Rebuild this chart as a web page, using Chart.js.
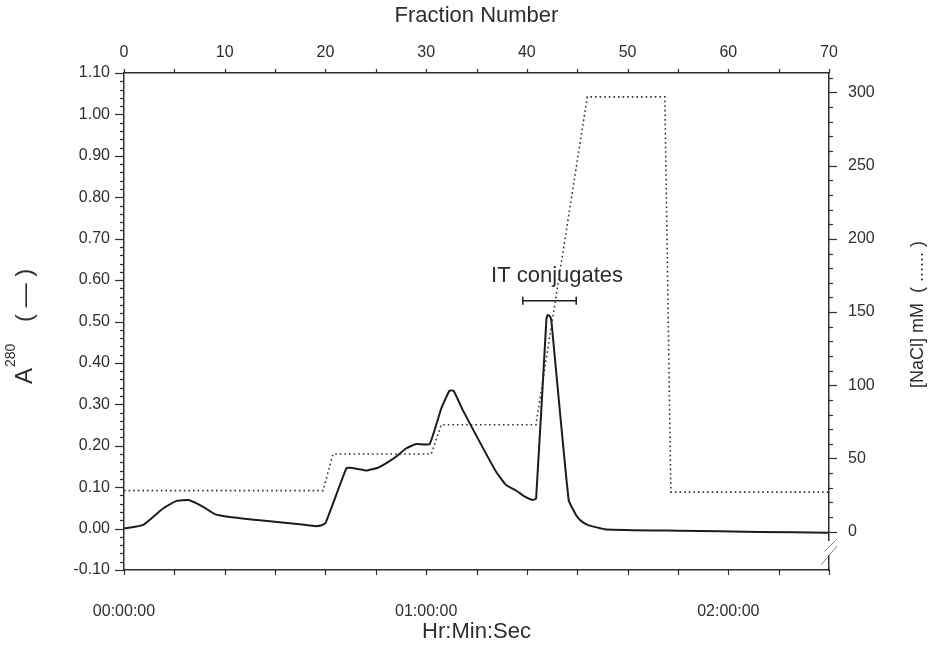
<!DOCTYPE html>
<html><head><meta charset="utf-8">
<script src="https://cdn.jsdelivr.net/npm/chart.js@4/dist/chart.umd.min.js"></script>
<style>html,body{margin:0;padding:0;background:#fff;}canvas{display:block;}</style>
</head><body>
<canvas id="c" width="930" height="645"></canvas>
<script>
// ---- data ----
const a280Fraction = [0, 1.91, 3.90, 5.23, 6.38, 7.21, 8.03, 9.02, 10.51, 13.48, 16.46, 18.93, 19.63, 20.02,
  22.08, 22.41, 23.2, 24.06, 25.21, 26.17, 27.04, 28.03, 29.02, 30.34, 31.50, 32.32, 32.72, 33.64, 35.30,
  36.95, 37.94, 38.92, 39.80, 40.58, 40.92, 41.94, 42.07, 42.31, 42.44, 44.15, 44.88, 45.41, 46.03, 47.86,
  55.13, 63.06, 69.9];
const a280Values = [0.000, 0.009, 0.049, 0.067, 0.069, 0.061, 0.050, 0.035, 0.028, 0.020, 0.013, 0.006, 0.008, 0.014,
  0.146, 0.147, 0.144, 0.140, 0.147, 0.160, 0.174, 0.194, 0.204, 0.204, 0.290, 0.333, 0.333, 0.286, 0.210,
  0.137, 0.105, 0.092, 0.077, 0.069, 0.073, 0.505, 0.516, 0.512, 0.500, 0.069, 0.033, 0.018, 0.009, -0.002,
  -0.005, -0.008, -0.010];
const naclFraction = [0, 19.76, 20.75, 30.5, 31.5, 40.4, 40.9, 46.0, 53.7, 54.3, 70];
const naclValues   = [28, 28, 53, 53, 73, 73, 73, 297, 297, 27, 27];
const conjugateFractions = [39.6, 44.9];
const conjugateLevel = [0.55, 0.55];

const fractionTicks = [0, 10, 20, 30, 40, 50, 60, 70];
const timeTickMinutes = [0, 60, 120];
const timeTickLabels = ['00:00:00', '01:00:00', '02:00:00'];
const absTicks = [-0.1, 0, 0.1, 0.2, 0.3, 0.4, 0.5, 0.6, 0.7, 0.8, 0.9, 1.0, 1.1];
const naclTicks = [0, 50, 100, 150, 200, 250, 300];

// ---- styling ----
const FONT = "'Liberation Sans', Arial, Helvetica, sans-serif";
const INK = '#2e2e2e';
Chart.defaults.font.family = FONT;
Chart.defaults.color = INK;

function fixedTicks(list) { return s => { s.ticks = list.map(v => ({ value: v })); }; }

const decor = {
  id: 'decor',
  afterDraw(chart) {
    const { ctx, chartArea: a, scales } = chart;
    ctx.save();
    ctx.strokeStyle = INK;
    ctx.lineWidth = 1.2;
    const seg = (x1, y1, x2, y2) => { ctx.beginPath(); ctx.moveTo(x1, y1); ctx.lineTo(x2, y2); ctx.stroke(); };
    // left ticks
    for (let i = -5; i <= 55; i++) {
      const py = Math.round(scales.y.getPixelForValue(i * 0.02)) + 0.5;
      const len = (i % 5 === 0) ? 9 : 4;
      seg(a.left - len, py, a.left, py);
    }
    // right ticks
    for (let i = 0; i <= 31; i++) {
      const py = Math.round(scales.y2.getPixelForValue(i * 10)) + 0.5;
      const len = (i % 5 === 0) ? 8 : 4;
      seg(a.right, py, a.right + len, py);
    }
    // top ticks
    for (let f = 0; f <= 70; f += 5) {
      const px = Math.round(scales.x.getPixelForValue(f)) + 0.5;
      seg(px, a.top - 4, px, a.top);
    }
    // bottom ticks
    for (let t = 0; t <= 140; t += 10) {
      const px = Math.round(scales.x2.getPixelForValue(t)) + 0.5;
      seg(px, a.bottom, px, a.bottom + 5);
    }
    // axis break on right side
    ctx.fillStyle = '#fff';
    ctx.fillRect(a.right - 2, a.bottom - 29, 4, 14);
    ctx.strokeStyle = '#888';
    ctx.lineWidth = 1;
    seg(a.right - 4, a.bottom - 19, a.right + 8, a.bottom - 31);
    seg(a.right - 8, a.bottom - 5, a.right + 8, a.bottom - 24);

    // annotation text
    ctx.fillStyle = INK;
    ctx.font = `22px ${FONT}`;
    ctx.textAlign = 'center';
    ctx.textBaseline = 'alphabetic';
    ctx.fillText('IT conjugates', scales.x.getPixelForValue(43.0), scales.y.getPixelForValue(0.596));

    // left title: A^280 ( — )
    ctx.save();
    ctx.translate(32, 384);
    ctx.rotate(-Math.PI / 2);
    ctx.textAlign = 'left';
    ctx.font = `24px ${FONT}`;
    ctx.fillText('A', 0, 0);
    const wA = ctx.measureText('A').width;
    ctx.font = `14px ${FONT}`;
    ctx.fillText('280', wA + 1, -17);
    ctx.font = `24px ${FONT}`;
    ctx.fillText('( \u2014 )', 62, 0);
    ctx.restore();

    // right title
    ctx.save();
    ctx.translate(923, 388);
    ctx.rotate(-Math.PI / 2);
    ctx.textAlign = 'left';
    ctx.font = `18px ${FONT}`;
    ctx.fillText('[NaCl] mM  ( ...... )', 0, 0);
    ctx.restore();

    ctx.restore();
  }
};

const border = { display: true, color: INK, width: 1.5 };
const noGrid = { display: false, drawTicks: false };
const tickFont = { size: 16, family: FONT };

new Chart(document.getElementById('c'), {
  data: {
    datasets: [
      {
        type: 'line', label: 'NaCl',
        data: naclFraction.map((f, i) => ({ x: f, y: naclValues[i] })),
        yAxisID: 'y2', xAxisID: 'x',
        borderColor: '#333', borderWidth: 1.6, borderDash: [1.6, 3],
        pointRadius: 0, tension: 0, fill: false
      },
      {
        type: 'line', label: 'A280',
        data: a280Fraction.map((f, i) => ({ x: f, y: a280Values[i] })),
        yAxisID: 'y', xAxisID: 'x',
        borderColor: '#1c1c1c', borderWidth: 2, pointRadius: 0,
        tension: 0.12, fill: false
      },
      {
        type: 'line', label: 'IT conjugates',
        data: conjugateFractions.map((f, i) => ({ x: f, y: conjugateLevel[i] })),
        yAxisID: 'y', xAxisID: 'x',
        borderColor: '#1c1c1c', borderWidth: 1.5,
        pointStyle: 'line', rotation: 90, pointRadius: 4,
        pointBorderColor: '#1c1c1c', pointBorderWidth: 1.5, fill: false
      }
    ]
  },
  options: {
    responsive: false, animation: false, devicePixelRatio: 1,
    layout: { padding: 0 },
    plugins: { legend: { display: false }, tooltip: { enabled: false } },
    scales: {
      x: {
        type: 'linear', position: 'top', min: 0, max: 70,
        afterBuildTicks: fixedTicks(fractionTicks),
        afterFit: s => { s.height = 73; },
        ticks: { autoSkip: false, maxRotation: 0, padding: 11, font: tickFont, color: INK },
        grid: noGrid, border,
        title: { display: true, text: 'Fraction Number', font: { size: 22, family: FONT }, color: INK, padding: { top: 2.5, bottom: 0 } }
      },
      x2: {
        type: 'linear', position: 'bottom', min: 0, max: 140,
        afterBuildTicks: fixedTicks(timeTickMinutes),
        afterFit: s => { s.height = 75; },
        ticks: { autoSkip: false, maxRotation: 0, padding: 32, font: tickFont, color: INK,
          callback: v => timeTickLabels[timeTickMinutes.indexOf(v)] },
        grid: noGrid, border,
        title: { display: true, text: 'Hr:Min:Sec', font: { size: 22, family: FONT }, color: INK, padding: { top: 0, bottom: 0 } }
      },
      y: {
        type: 'linear', position: 'left', min: -0.1, max: 1.1,
        afterBuildTicks: fixedTicks(absTicks),
        afterFit: s => { s.width = 124; },
        ticks: { autoSkip: false, padding: 14, font: tickFont, color: INK, callback: v => v.toFixed(2) },
        grid: noGrid, border
      },
      y2: {
        type: 'linear', position: 'right', min: -26.2, max: 313.3,
        afterBuildTicks: fixedTicks(naclTicks),
        afterFit: s => { s.width = 101; },
        ticks: { autoSkip: false, padding: 19, font: tickFont, color: INK },
        grid: noGrid, border
      }
    }
  },
  plugins: [decor]
});
</script>
</body></html>
